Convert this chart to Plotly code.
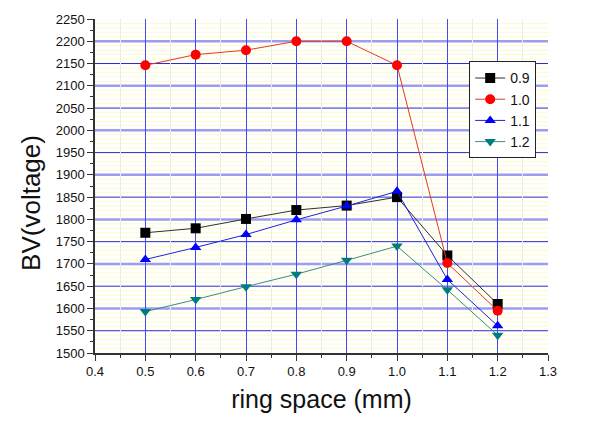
import plotly.graph_objects as go

ring_space = [0.5, 0.6, 0.7, 0.8, 0.9, 1.0, 1.1, 1.2]
s09 = [1770, 1780, 1801, 1821, 1831, 1850, 1719, 1610]
s10 = [2146, 2170, 2180, 2200, 2200, 2146, 1702, 1595]
s11 = [1710, 1737, 1766, 1799, 1830, 1863, 1665, 1561]
s12 = [1593, 1620, 1649, 1677, 1708, 1740, 1642, 1540]
names = ["0.9", "1.0", "1.1", "1.2"]

series = [
    (s09, names[0], "#000000", "#303030", "square"),
    (s10, names[1], "#ff0000", "#e03a20", "circle"),
    (s11, names[2], "#0000ff", "#2020e0", "triangle-up"),
    (s12, names[3], "#007c7c", "#3f8888", "triangle-down"),
]

font = "Liberation Sans, Arial, sans-serif"
xr = [0.4, 1.3]
yr = [1500, 2250]

fig = go.Figure()
for vals, nm, mc, lc, sym in series:
    fig.add_trace(go.Scatter(
        x=ring_space, y=vals, name=nm, mode="lines+markers",
        line=dict(color=lc, width=1),
        marker=dict(symbol=sym, size=10, color=mc),
    ))

# horizontal grid built from the y range: fine yellow every 10,
# dark blue at odd multiples of 50, light purple at multiples of 100
fine_levels = [v for v in range(yr[0], yr[1] + 1, 10) if v % 50 != 0]
odd50_levels = [v for v in range(yr[0] + 50, yr[1], 100)]
hundred_levels = list(range(yr[0] + 100, yr[1], 100))
for v in fine_levels:
    fig.add_shape(type="line", xref="paper", yref="y", x0=0, x1=1, y0=v, y1=v,
                  line=dict(color="#fbfbcc", width=1), layer="below")
for v in odd50_levels:
    fig.add_shape(type="line", xref="paper", yref="y", x0=0, x1=1, y0=v, y1=v,
                  line=dict(color="#2c2cc0", width=1), layer="below")
for v in hundred_levels:
    fig.add_shape(type="line", xref="paper", yref="y", x0=0, x1=1, y0=v, y1=v,
                  line=dict(color="#9c9cf0", width=2.5), layer="below")

fig.update_layout(
    width=611, height=423,
    margin=dict(l=95, r=63, t=15, b=70),
    paper_bgcolor="white", plot_bgcolor="white",
    font=dict(family=font, size=13, color="#111111"),
    showlegend=True,
    legend=dict(x=0.826, y=0.873, xanchor="left", yanchor="top",
                bgcolor="white", bordercolor="#222222", borderwidth=1,
                font=dict(size=14, family=font), tracegroupgap=0,
                itemwidth=30),
    xaxis=dict(
        range=xr, dtick=0.1, tick0=0.4, tickformat=".1f",
        showgrid=True, gridcolor="#4646f4", gridwidth=1,
        showline=True, linecolor="#333333", linewidth=1.5,
        ticks="outside", ticklen=6, tickcolor="#333333",
        minor=dict(dtick=0.05, showgrid=True, gridcolor="#e6efe0",
                   ticks="outside", ticklen=3, tickcolor="#333333"),
        zeroline=False,
        title=dict(text="ring space (mm)", font=dict(size=25, family=font), standoff=12),
    ),
    yaxis=dict(
        range=yr, dtick=50, tick0=1500,
        showgrid=False,
        showline=True, linecolor="#333333", linewidth=1.5,
        ticks="outside", ticklen=6, tickcolor="#333333",
        minor=dict(dtick=25, showgrid=False, ticks="outside", ticklen=3,
                   tickcolor="#333333"),
        zeroline=False,
    ),
    annotations=[dict(
        text="BV(voltage)", xref="paper", yref="paper",
        x=-0.143, y=0.45, xanchor="center", yanchor="middle",
        textangle=-90, showarrow=False, font=dict(size=26, family=font, color="#111111"),
    )],
)

fig.write_html("out.html")
